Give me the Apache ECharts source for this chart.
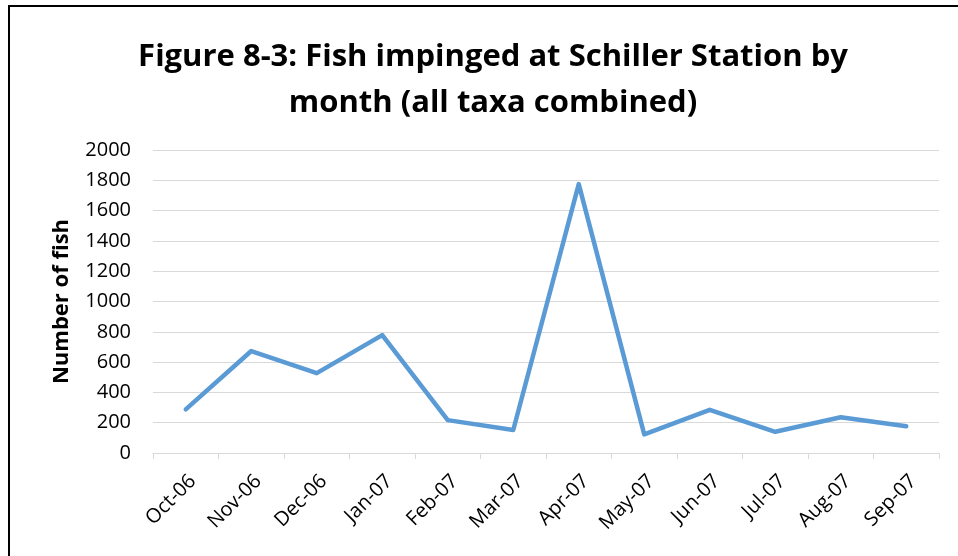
<!DOCTYPE html>
<html>
<head>
<meta charset="utf-8">
<script src="https://cdn.jsdelivr.net/npm/echarts@6/dist/echarts.min.js"></script>
<style>html,body{margin:0;padding:0;background:#fff}#c{width:958px;height:556px}</style>
</head>
<body>
<div id="c"></div>
<script>
const months = ['Oct-06','Nov-06','Dec-06','Jan-07','Feb-07','Mar-07','Apr-07','May-07','Jun-07','Jul-07','Aug-07','Sep-07'];
const fishCounts = [288, 673, 527, 778, 217, 152, 1775, 123, 285, 140, 236, 177];
const titleText = 'Figure 8-3: Fish impinged at Schiller Station by\nmonth (all taxa combined)';
const yAxisName = 'Number of fish';

const chart = echarts.init(document.getElementById('c'));
chart.setOption({
  animation: false,
  backgroundColor: '#fff',
  graphic: [{
    type: 'polyline', silent: true,
    shape: { points: [[9, 600], [9, 6], [958, 6]] },
    style: { stroke: '#000', lineWidth: 2, fill: null }
  }],
  title: {
    text: titleText,
    left: 488, textAlign: 'center', top: 29,
    textStyle: { fontFamily: 'Open Sans', fontWeight: 'bold', fontSize: 31, color: '#000', lineHeight: 46 }
  },
  grid: { left: 153, right: 19, top: 150, bottom: 103 },
  xAxis: {
    type: 'category', data: months, boundaryGap: true,
    axisLine: { lineStyle: { color: '#D9D9D9', width: 1 } },
    axisTick: { show: true, length: 6, lineStyle: { color: '#D9D9D9' } },
    axisLabel: { rotate: 45, interval: 0, fontFamily: 'Open Sans', fontSize: 20, color: '#000', margin: 18, verticalAlign: 'top' }
  },
  yAxis: {
    type: 'value', min: 0, max: 2000, interval: 200,
    name: yAxisName, nameLocation: 'middle', nameGap: 80,
    nameTextStyle: { fontFamily: 'Open Sans', fontWeight: 'bold', fontSize: 22, color: '#000' },
    axisLine: { show: false }, axisTick: { show: false },
    axisLabel: { fontFamily: 'Open Sans', fontSize: 20, color: '#000', margin: 22, formatter: v => String(v) },
    splitLine: { lineStyle: { color: '#D9D9D9', width: 1 } }
  },
  series: [{
    type: 'line', data: fishCounts, symbol: 'none',
    lineStyle: { color: '#5B9BD5', width: 4.5, cap: 'round', join: 'round' }
  }]
});
</script>
</body>
</html>
